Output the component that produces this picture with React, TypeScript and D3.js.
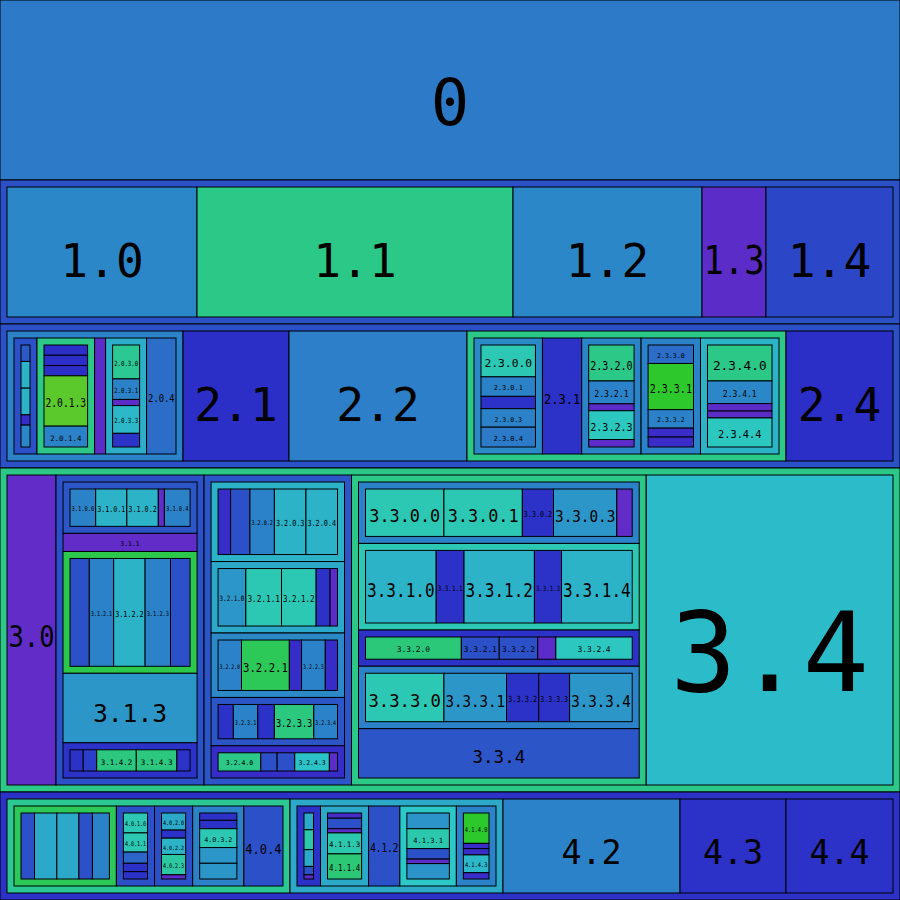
import React from "react";
import * as d3 from "d3";

// every node: id, share of its parent (measured along the split), hue
const row0Ids = ["0"];
const row0Shares = [180];
const row0Hues = [210];

const row1Ids = ["1", "1.0", "1.1", "1.2", "1.3", "1.4"];
const row1Shares = [144, 190, 316, 189, 64, 127];
const row1Hues = [226, 205, 155, 205, 258, 230];

const row2Ids = [
  "2",
  "2.0",
  "2.0.0", "2.0.0.0", "2.0.0.1", "2.0.0.2", "2.0.0.3", "2.0.0.4",
  "2.0.1", "2.0.1.0", "2.0.1.1", "2.0.1.2", "2.0.1.3", "2.0.1.4",
  "2.0.2",
  "2.0.3", "2.0.3.0", "2.0.3.1", "2.0.3.2", "2.0.3.3", "2.0.3.4",
  "2.0.4",
  "2.1", "2.2",
  "2.3",
  "2.3.0", "2.3.0.0", "2.3.0.1", "2.3.0.2", "2.3.0.3", "2.3.0.4",
  "2.3.1",
  "2.3.2", "2.3.2.0", "2.3.2.1", "2.3.2.2", "2.3.2.3", "2.3.2.4",
  "2.3.3", "2.3.3.0", "2.3.3.1", "2.3.3.2", "2.3.3.3", "2.3.3.4",
  "2.3.4", "2.3.4.0", "2.3.4.1", "2.3.4.2", "2.3.4.3", "2.3.4.4",
  "2.4",
];
const row2Shares = [
  144,
  176,
  23, 16, 26, 26, 10, 21.3,
  57.6, 10, 10, 10, 49, 20.3,
  11,
  41, 33, 20, 6, 27, 13.3,
  29.4,
  106, 178,
  319,
  68, 31, 19, 12, 18, 19.3,
  39,
  59, 35, 22.3, 6.7, 28, 7.3,
  59, 18, 45, 18, 8.7, 9.7,
  78, 35, 22, 7.3, 6.7, 28.3,
  107,
];
const row2Hues = [
  226,
  207,
  226, 222, 188, 188, 244, 205,
  155, 239, 239, 239, 102, 207,
  258,
  190, 160, 207, 258, 186, 237,
  215,
  239, 208,
  155,
  204, 172, 207, 238, 207, 210,
  238,
  206, 155, 207, 258, 177, 258,
  207, 215, 120, 207, 245, 245,
  188, 155, 205, 258, 258, 177,
  239,
];

const row3Ids = [
  "3",
  "3.0",
  "3.1",
  "3.1.0", "3.1.0.0", "3.1.0.1", "3.1.0.2", "3.1.0.3", "3.1.0.4",
  "3.1.1",
  "3.1.2", "3.1.2.0", "3.1.2.1", "3.1.2.2", "3.1.2.3", "3.1.2.4",
  "3.1.3",
  "3.1.4", "3.1.4.0", "3.1.4.1", "3.1.4.2", "3.1.4.3", "3.1.4.4",
  "3.2",
  "3.2.0", "3.2.0.0", "3.2.0.1", "3.2.0.2", "3.2.0.3", "3.2.0.4",
  "3.2.1", "3.2.1.0", "3.2.1.1", "3.2.1.2", "3.2.1.3", "3.2.1.4",
  "3.2.2", "3.2.2.0", "3.2.2.1", "3.2.2.2", "3.2.2.3", "3.2.2.4",
  "3.2.3", "3.2.3.0", "3.2.3.1", "3.2.3.2", "3.2.3.3", "3.2.3.4",
  "3.2.4", "3.2.4.0", "3.2.4.1", "3.2.4.2", "3.2.4.3", "3.2.4.4",
  "3.3",
  "3.3.0", "3.3.0.0", "3.3.0.1", "3.3.0.2", "3.3.0.3", "3.3.0.4",
  "3.3.1", "3.3.1.0", "3.3.1.1", "3.3.1.2", "3.3.1.3", "3.3.1.4",
  "3.3.2", "3.3.2.0", "3.3.2.1", "3.3.2.2", "3.3.2.3", "3.3.2.4",
  "3.3.3", "3.3.3.0", "3.3.3.1", "3.3.3.2", "3.3.3.3", "3.3.3.4",
  "3.3.4",
  "3.4",
];
const row3Shares = [
  324,
  49,
  148,
  51, 25.3, 30.7, 31, 6, 25.3,
  18,
  121, 19, 24, 31, 25, 19.3,
  69,
  35, 13, 13.3, 39, 40, 13,
  147.4,
  79, 12.3, 19, 24, 31, 31,
  71, 27.3, 35, 34, 13.7, 7.3,
  64, 23, 47, 12, 23.3, 12,
  48, 15, 24, 16.3, 38.7, 23.3,
  32, 42, 16, 17.3, 34, 8,
  294.6,
  61, 78, 78, 31, 63, 15.3,
  86, 70.3, 27.7, 70, 27, 70.3,
  36, 95.3, 37.7, 38.3, 18, 76,
  62, 78, 62.3, 32, 30.7, 62.3,
  49,
  246.7,
];
const row3Hues = [
  155,
  261,
  226,
  224, 207, 188, 188, 261, 207,
  261,
  132, 226, 207, 188, 207, 226,
  199,
  238, 238, 233, 152, 152, 238,
  224,
  188, 244, 226, 207, 188, 188,
  192, 199, 172, 172, 238, 258,
  204, 207, 137, 244, 207, 244,
  224, 238, 207, 238, 152, 207,
  244, 155, 226, 226, 182, 258,
  155,
  207, 172, 172, 238, 199, 261,
  172, 188, 238, 188, 238, 188,
  238, 150, 226, 226, 258, 177,
  207, 172, 199, 238, 238, 199,
  224,
  185,
];

const row4Ids = [
  "4",
  "4.0",
  "4.0.0", "4.0.0.0", "4.0.0.1", "4.0.0.2", "4.0.0.3", "4.0.0.4",
  "4.0.1", "4.0.1.0", "4.0.1.1", "4.0.1.2", "4.0.1.3", "4.0.1.4",
  "4.0.2", "4.0.2.0", "4.0.2.1", "4.0.2.2", "4.0.2.3", "4.0.2.4",
  "4.0.3", "4.0.3.0", "4.0.3.1", "4.0.3.2", "4.0.3.3", "4.0.3.4",
  "4.0.4",
  "4.1",
  "4.1.0", "4.1.0.0", "4.1.0.1", "4.1.0.2", "4.1.0.3", "4.1.0.4",
  "4.1.1", "4.1.1.0", "4.1.1.1", "4.1.1.2", "4.1.1.3", "4.1.1.4",
  "4.1.2",
  "4.1.3", "4.1.3.0", "4.1.3.1", "4.1.3.2", "4.1.3.3", "4.1.3.4",
  "4.1.4", "4.1.4.0", "4.1.4.1", "4.1.4.2", "4.1.4.3", "4.1.4.4",
  "4.2", "4.3", "4.4",
];
const row4Shares = [
  108,
  283,
  102, 13.3, 22, 21.7, 13.3, 16.7,
  38, 19, 18.3, 10.7, 8, 7,
  38, 16.3, 7.7, 15.6, 19.4, 4,
  51, 7, 8, 18, 15, 15,
  39,
  213,
  23.3, 16, 19, 16, 8, 4,
  47.7, 5, 10, 4, 20, 24,
  31,
  56, 15, 19, 10, 4.3, 14.7,
  39.3, 29, 5, 6, 17, 6,
  177, 106, 107,
];
const row4Hues = [
  238,
  160,
  137, 226, 192, 192, 226, 207,
  226, 172, 172, 218, 238, 238,
  226, 192, 238, 188, 165, 258,
  207, 238, 238, 172, 199, 199,
  226,
  192,
  238, 192, 168, 192, 226, 258,
  192, 250, 226, 258, 170, 148,
  226,
  180, 200, 170, 226, 258, 200,
  207, 120, 245, 245, 186, 245,
  207, 238, 238,
];

const W = 900;
const H = 900;
const PAD = 7;

type Item = { id: string; parent: string | null; share: number; hue: number };

function buildItems(): Item[] {
  const items: Item[] = [{ id: "root", parent: null, share: 1, hue: 226 }];
  const rows: [string[], number[], number[]][] = [
    [row0Ids, row0Shares, row0Hues],
    [row1Ids, row1Shares, row1Hues],
    [row2Ids, row2Shares, row2Hues],
    [row3Ids, row3Shares, row3Hues],
    [row4Ids, row4Shares, row4Hues],
  ];
  rows.forEach(([ids, shares, hues]) => {
    ids.forEach((id, i) => {
      const k = id.lastIndexOf(".");
      items.push({ id, parent: k < 0 ? "root" : id.slice(0, k), share: shares[i], hue: hues[i] });
    });
  });
  return items;
}

// split along the longer side, one row of children per parent
const tile = (node: any, x0: number, y0: number, x1: number, y1: number) =>
  (x1 - x0 > y1 - y0 ? d3.treemapDice : d3.treemapSlice)(node, x0, y0, x1, y1);

export default function App() {
  const items = buildItems();
  const parentIds = new Set(items.map((d) => d.parent));
  const strat = d3
    .stratify<Item>()
    .id((d) => d.id)
    .parentId((d) => d.parent)(items);

  // fraction of the whole that each node covers
  const frac = new Map<string, number>();
  strat.eachBefore((n) => {
    if (!n.parent) {
      frac.set(n.id!, 1);
      return;
    }
    const tot = d3.sum(n.parent.children!, (c) => c.data.share);
    frac.set(n.id!, (frac.get(n.parent.id!)! * n.data.share) / tot);
  });
  strat.sum((d) => (parentIds.has(d.id) ? 0 : frac.get(d.id)!));

  const root = d3
    .treemap<Item>()
    .size([W, H])
    .tile(tile)
    .paddingInner(0)
    .paddingOuter((n) => (n.depth === 0 ? 0 : PAD))(strat);

  const nodes = root.descendants().slice(1);
  const leaves = root.leaves();

  return (
    <svg
      width={W}
      height={H}
      style={{ position: "absolute", left: 0, top: 0, display: "block" }}
      fontFamily="'DejaVu Sans Mono', monospace"
    >
      {nodes.map((n) => (
        <rect
          key={"r" + n.id}
          x={n.x0}
          y={n.y0}
          width={n.x1 - n.x0}
          height={n.y1 - n.y0}
          fill={d3.hsl(n.data.hue, 0.64, 0.478).formatHex()}
          stroke="#000"
          strokeWidth={1}
        />
      ))}
      {leaves.map((n) => {
        const w = n.x1 - n.x0;
        const h = n.y1 - n.y0;
        const label = n.data.id;
        const len = label.length;
        if (h < 16.2 || w < 3.2 * len) return null;
        const fs = Math.min(0.355 * h, (1.85 * w) / len);
        const natural = len * 0.602 * fs;
        const room = w - 3;
        const sx = natural > room ? room / natural : 1;
        const cx = (n.x0 + n.x1) / 2;
        const cy = (n.y0 + n.y1) / 2 + 0.55 * fs;
        return (
          <text
            key={"t" + n.id}
            transform={`translate(${cx},${cy}) scale(${sx},1)`}
            textAnchor="middle"
            fontSize={fs}
            fill="#000"
          >
            {label}
          </text>
        );
      })}
    </svg>
  );
}
